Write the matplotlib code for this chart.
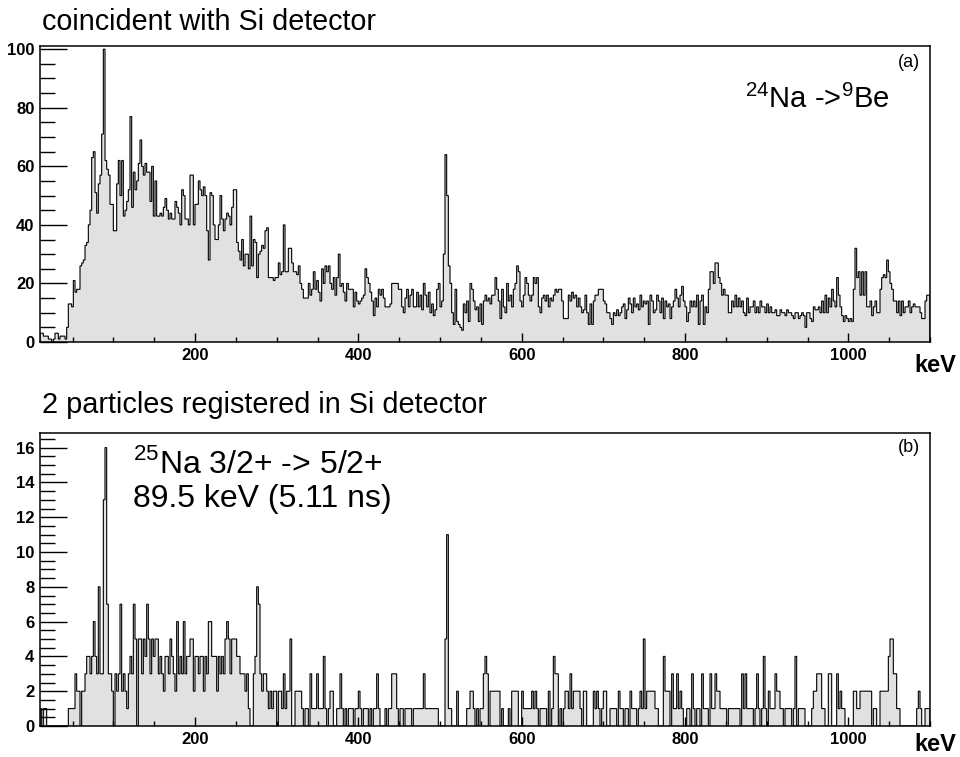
import numpy as np
import matplotlib
matplotlib.use("Agg")
import matplotlib.pyplot as plt
from matplotlib.ticker import MultipleLocator

plt.rcParams['font.family'] = ['Liberation Sans', 'DejaVu Sans']
plt.rcParams['mathtext.fontset'] = 'custom'
plt.rcParams['mathtext.rm'] = 'Liberation Sans'

# energy range of the spectra (keV)
e_lo, e_hi = 10, 1100

# (a) gamma spectrum coincident with Si detector, counts per bin
counts_a = [
    3, 3, 2, 2, 2, 1, 1, 0, 1, 3, 3, 1, 2, 2, 2, 1,
    5, 13, 13, 12, 21, 17, 18, 18, 26, 27, 28, 33, 34, 40, 45, 63, 65, 51, 44, 54,
    57, 71, 100, 62, 59, 57, 47, 47, 38, 38, 54, 62, 50, 62, 43, 45, 48, 52, 77, 46,
    58, 52, 55, 61, 69, 60, 57, 61, 58, 58, 48, 60, 43, 55, 43, 43, 44, 43, 46, 49,
    45, 42, 44, 42, 42, 48, 46, 44, 40, 52, 50, 42, 42, 40,
    57, 57, 40, 47, 47, 55, 52, 50, 53, 50, 38, 28, 51, 50, 40, 35, 35, 40, 50, 42,
    38, 42, 44, 43, 40, 46, 52, 52, 34, 31, 28, 35, 26, 30, 30, 25, 43, 26, 35, 34,
    22, 30, 31, 33, 32, 38, 39, 22, 22, 22, 21, 22, 22, 27, 23, 24, 40, 24, 24, 32,
    32, 27, 24, 24, 23, 26, 20, 18, 15, 15, 15, 20, 16, 18, 24, 18, 21, 17, 14, 25,
    20, 26, 24, 26, 20, 18, 22, 16, 22, 30, 19, 20, 17,
    14, 20, 18, 18, 18, 12, 17, 14, 13, 14, 15, 16, 25, 22, 20, 17, 14, 9, 15, 12,
    18, 16, 18, 15, 12, 12, 12, 13, 20, 20, 20, 20, 18, 18, 12, 10, 15, 18, 12, 16,
    18, 12, 12, 17, 12, 16, 11, 20, 16, 12, 17, 10, 13, 9, 11, 18, 20, 12, 14, 30,
    64, 50, 26, 20, 10, 6, 18, 7, 6, 5, 4, 13, 10, 14, 7, 20, 18, 14, 11, 12,
    7, 13, 6, 14, 16, 14, 15, 13, 16, 16, 22, 18, 14,
    8, 18, 12, 10, 20, 14, 16, 12, 18, 20, 26, 24, 14, 12, 16, 22, 20, 16, 14, 16,
    22, 20, 22, 12, 10, 15, 16, 14, 16, 12, 15, 14, 16, 18, 17, 18, 18, 14, 8, 8,
    8, 16, 14, 17, 15, 16, 12, 15, 12, 10, 11, 16, 10, 6, 13, 6, 14, 16, 16, 18,
    18, 18, 14, 13, 10, 10, 8, 6, 10, 9, 11, 9, 10, 12, 13, 8, 11, 15, 13, 10,
    15, 12, 13, 11, 16, 12, 14, 13, 14, 6, 16, 14, 10,
    11, 16, 14, 10, 15, 8, 14, 12, 13, 8, 12, 14, 18, 15, 12, 16, 19, 14, 12, 7,
    10, 14, 12, 14, 12, 16, 6, 14, 16, 6, 12, 10, 18, 24, 24, 20, 27, 27, 22, 20,
    16, 18, 16, 16, 10, 10, 14, 12, 16, 12, 15, 12, 14, 10, 9, 15, 10, 12, 12, 14,
    10, 12, 10, 14, 12, 12, 10, 13, 10, 12, 10, 10, 11, 9, 9, 11, 10, 10, 9, 11,
    10, 10, 9, 8, 10, 10, 8, 9, 10, 9, 5, 10, 10,
    8, 7, 12, 11, 11, 12, 10, 14, 10, 16, 10, 15, 12, 18, 14, 12, 22, 16, 12, 9,
    7, 9, 8, 7, 8, 7, 18, 32, 22, 24, 16, 24, 16, 24, 12, 12, 14, 9, 12, 14,
    10, 10, 18, 22, 23, 22, 28, 24, 20, 18, 14, 14, 10, 14, 9, 14, 10, 12, 12, 14,
    10, 12, 13, 12, 12, 12, 10, 8, 8, 14, 16, 16,
]

# (b) 2 particles registered in Si detector, counts per bin
counts_b = [
    1, 0, 1, 1, 0, 0, 0, 0, 0, 0, 0, 0, 0, 0, 0, 0,
    0, 1, 1, 1, 1, 3, 2, 2, 0, 2, 2, 3, 4, 4, 3, 4, 6, 4, 3, 8,
    3, 3, 13, 16, 7, 3, 3, 2, 0, 3, 2, 3, 7, 2, 3, 2, 1, 3, 4, 3,
    7, 5, 0, 5, 5, 3, 5, 4, 7, 5, 3, 5, 4, 5, 5, 3, 4, 3, 2, 4,
    4, 3, 5, 4, 3, 2, 6, 3, 4, 3, 6, 3, 4, 4,
    5, 5, 2, 4, 4, 3, 4, 4, 2, 4, 3, 6, 6, 4, 4, 4, 2, 4, 3, 4,
    3, 5, 6, 5, 3, 5, 5, 5, 4, 4, 3, 3, 3, 2, 3, 1, 0, 0, 3, 4,
    8, 7, 3, 2, 3, 3, 2, 1, 2, 1, 2, 2, 0, 2, 2, 1, 3, 1, 2, 2,
    5, 0, 0, 2, 2, 2, 2, 1, 0, 1, 1, 0, 3, 1, 1, 1, 3, 1, 1, 1,
    4, 1, 0, 1, 2, 2, 0, 0, 1, 1, 3, 1, 0,
    1, 0, 1, 1, 1, 0, 1, 1, 2, 1, 0, 1, 1, 1, 0, 1, 0, 1, 1, 3,
    1, 0, 0, 0, 1, 0, 1, 1, 3, 3, 3, 1, 0, 1, 1, 0, 1, 1, 1, 1,
    0, 1, 1, 1, 1, 1, 1, 3, 1, 1, 1, 1, 1, 1, 1, 1, 0, 0, 0, 0,
    5, 11, 1, 1, 0, 0, 0, 2, 0, 0, 0, 0, 0, 1, 1, 2, 2, 1, 0, 1,
    0, 1, 1, 3, 4, 3, 0, 2, 2, 2, 2, 2, 2,
    0, 1, 0, 0, 0, 1, 0, 2, 2, 2, 2, 0, 0, 2, 1, 1, 1, 1, 1, 2,
    1, 2, 1, 0, 1, 1, 1, 1, 0, 2, 0, 1, 4, 3, 3, 0, 1, 0, 1, 2,
    2, 1, 3, 1, 2, 2, 2, 2, 1, 0, 2, 2, 0, 0, 0, 0, 2, 1, 2, 1,
    0, 1, 2, 2, 0, 0, 1, 1, 1, 1, 0, 2, 1, 1, 0, 1, 1, 0, 2, 1,
    1, 1, 0, 1, 2, 1, 5, 1, 2, 2, 2, 2, 2,
    1, 1, 0, 0, 0, 4, 2, 2, 2, 0, 3, 1, 1, 3, 1, 2, 1, 0, 0, 1,
    1, 0, 3, 1, 0, 1, 1, 0, 3, 1, 1, 1, 0, 3, 1, 1, 3, 2, 2, 1,
    1, 1, 1, 0, 1, 1, 1, 1, 1, 1, 1, 0, 3, 1, 3, 1, 1, 1, 1, 0,
    1, 3, 1, 0, 1, 4, 1, 0, 2, 1, 1, 1, 3, 2, 2, 1, 1, 0, 1, 1,
    1, 1, 0, 1, 4, 0, 1, 1, 1, 1, 0, 0, 0,
    0, 1, 2, 2, 3, 3, 3, 1, 1, 0, 0, 3, 3, 0, 0, 0, 3, 1, 2, 1,
    1, 0, 0, 0, 0, 0, 2, 2, 1, 1, 2, 2, 2, 2, 2, 2, 2, 0, 1, 1,
    0, 0, 2, 2, 2, 2, 2, 4, 5, 5, 3, 3, 1, 1, 0, 0, 0, 0, 0, 0,
    0, 0, 0, 0, 1, 2, 1, 0, 0, 1, 1, 1,
]

titles = ["coincident with Si detector", "2 particles registered in Si detector"]
tags = ["(a)", "(b)"]
y_tops = [101.1, 16.84]
y_major = [20, 2]
y_minor = [5, 0.5]
tag_y = [0.943, 0.949]
kev_y = [-0.078, -0.064]

fig = plt.figure(figsize=(9.6, 7.57), dpi=100)
ax_a = fig.add_axes([0.04167, 0.54822, 0.92708, 0.39102])
ax_b = fig.add_axes([0.04167, 0.04095, 0.92708, 0.38705])

for ax, counts, tag, ytop, ymaj, ymin, ty, ky in zip(
        [ax_a, ax_b], [counts_a, counts_b], tags, y_tops, y_major, y_minor, tag_y, kev_y):
    counts = np.array(counts, dtype=float)
    edges = np.linspace(e_lo, e_hi, len(counts) + 1)
    ax.stairs(counts, edges, fill=True, color='#e1e1e1', lw=0)
    ax.stairs(counts, edges, color='black', lw=0.8)
    ax.set_xlim(e_lo, e_hi)
    ax.set_ylim(0, ytop)
    ax.xaxis.set_major_locator(MultipleLocator(200))
    ax.xaxis.set_minor_locator(MultipleLocator(50))
    ax.yaxis.set_major_locator(MultipleLocator(ymaj))
    ax.yaxis.set_minor_locator(MultipleLocator(ymin))
    ax.tick_params(axis='x', which='major', direction='in', length=6.5, width=1, pad=4,
                   labelsize=12)
    ax.tick_params(axis='x', which='minor', direction='in', length=3.6, width=1)
    ax.tick_params(axis='y', which='major', direction='in', length=19.5, width=1, pad=4,
                   labelsize=12)
    ax.tick_params(axis='y', which='minor', direction='in', length=10.8, width=1)
    for lab in ax.get_xticklabels() + ax.get_yticklabels():
        lab.set_fontweight('bold')
    for sp in ax.spines.values():
        sp.set_linewidth(1.1)
    ax.text(0.989, ty, tag, transform=ax.transAxes,
            ha='right', va='center', fontsize=13)
    ax.text(1.0056, ky, "keV", transform=ax.transAxes,
            ha='center', va='center', fontsize=17, fontweight='bold')

fig.text(42 / 960, 1 - 22 / 757, titles[0], ha='left', va='center', fontsize=20.7)
fig.text(42 / 960, 1 - 405 / 757, titles[1], ha='left', va='center', fontsize=20.8)

ax_a.text(0.955, 0.82, r'$^{24}$Na ->$^{9}$Be', transform=ax_a.transAxes,
          ha='right', va='center', fontsize=21)
ax_b.text(0.105, 0.895, r'$^{25}$Na 3/2+ -> 5/2+', transform=ax_b.transAxes,
          ha='left', va='center', fontsize=23)
ax_b.text(0.105, 0.775, '89.5 keV (5.11 ns)', transform=ax_b.transAxes,
          ha='left', va='center', fontsize=23)

fig.savefig("out.png", dpi=100)
